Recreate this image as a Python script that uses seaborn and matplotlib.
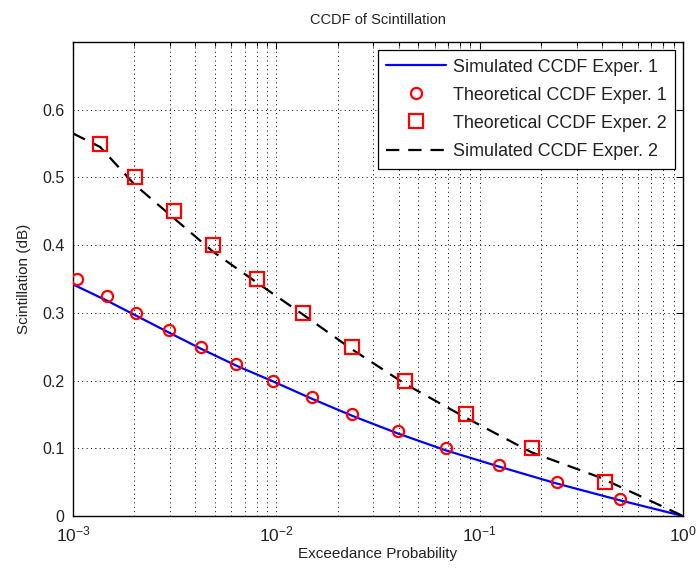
import matplotlib
matplotlib.use("Agg")
import matplotlib.pyplot as plt
import matplotlib.ticker as mticker
import numpy as np
import pandas as pd
import seaborn as sns

# Simulated CCDF curves (exceedance probability vs. scintillation in dB)
sim1_prob = [1e-3, 1.47e-3, 2.04e-3, 2.96e-3, 4.26e-3, 6.36e-3, 9.6e-3, 1.5e-2,
             2.36e-2, 3.95e-2, 6.8e-2, 0.1244, 0.239, 0.492, 1.0]
sim1_db = [0.342, 0.318, 0.296, 0.271, 0.247, 0.222, 0.199, 0.173,
           0.148, 0.122, 0.097, 0.073, 0.048, 0.023, 0.0]

sim2_prob = [1e-3, 1.36e-3, 2.0e-3, 4.9e-3, 8.0e-3, 1.36e-2, 2.36e-2, 4.3e-2,
             8.57e-2, 0.18, 0.39, 1.0]
sim2_db = [0.565, 0.545, 0.49, 0.39, 0.345, 0.297, 0.246, 0.195,
           0.145, 0.094, 0.057, 0.0]

# Theoretical CCDF points
theo1_prob = [1.05e-3, 1.465e-3, 2.04e-3, 2.96e-3, 4.26e-3, 6.36e-3, 9.6e-3,
              1.503e-2, 2.364e-2, 3.95e-2, 6.8e-2, 0.1244, 0.239, 0.492]
theo1_db = [0.35, 0.325, 0.3, 0.275, 0.25, 0.225, 0.2,
            0.175, 0.15, 0.125, 0.1, 0.075, 0.05, 0.025]

theo2_prob = [1.36e-3, 2.02e-3, 3.14e-3, 4.9e-3, 8.0e-3, 1.358e-2, 2.364e-2,
              4.3e-2, 8.57e-2, 0.1807, 0.415]
theo2_db = [0.55, 0.5, 0.45, 0.4, 0.35, 0.3, 0.25, 0.2, 0.15, 0.1, 0.05]

x_ticks = [1e-3, 1e-2, 1e-1, 1e0]
y_ticks = [0, 0.1, 0.2, 0.3, 0.4, 0.5, 0.6]

sns.set_style("white")
plt.rcParams["font.family"] = ["Liberation Sans", "DejaVu Sans"]
plt.rcParams["mathtext.fontset"] = "custom"
plt.rcParams["mathtext.rm"] = "Liberation Sans"
plt.rcParams["mathtext.it"] = "Liberation Sans"

fig = plt.figure(figsize=(6.99, 5.78), dpi=100)
ax = fig.add_axes([0.1044, 0.1073, 0.8727, 0.8200])

sim1 = pd.DataFrame({"p": sim1_prob, "db": sim1_db})
sim2 = pd.DataFrame({"p": sim2_prob, "db": sim2_db})
th1 = pd.DataFrame({"p": theo1_prob, "db": theo1_db})
th2 = pd.DataFrame({"p": theo2_prob, "db": theo2_db})

sns.lineplot(data=sim1, x="p", y="db", ax=ax, color="#0000ff", lw=1.6,
             label="Simulated CCDF Exper. 1", zorder=3)
ax.plot(th1["p"], th1["db"], ls="none", marker="o", ms=8, mfc="none",
        mec="#ff0000", mew=1.6, label="Theoretical CCDF Exper. 1", zorder=4)
ax.plot(th2["p"], th2["db"], ls="none", marker="s", ms=10, mfc="none",
        mec="#ff0000", mew=1.6, label="Theoretical CCDF Exper. 2", zorder=4)
sns.lineplot(data=sim2, x="p", y="db", ax=ax, color="black", lw=1.6,
             label="Simulated CCDF Exper. 2", zorder=3)
ax.lines[-1].set_dashes((6, 4))

ax.set_xscale("log")
ax.set_xlim(1e-3, 1)
ax.set_ylim(0, 0.7)
ax.set_xticks(x_ticks)
ax.xaxis.set_minor_locator(mticker.LogLocator(base=10, subs=np.arange(2, 10)))
ax.xaxis.set_minor_formatter(mticker.NullFormatter())
ax.set_yticks(y_ticks)
ax.set_yticklabels([f"{v:g}" for v in y_ticks])

ax.grid(True, which="major", axis="both", color="black",
        linestyle=(0, (1, 3.5)), linewidth=0.7)
ax.grid(True, which="minor", axis="x", color="black",
        linestyle=(0, (1, 3.5)), linewidth=0.7)

ax.tick_params(which="both", direction="in", top=True, right=True,
               labelsize=11.5, colors="black", labelcolor="#222222")
ax.tick_params(axis="x", which="major", labelsize=12.5)
ax.tick_params(which="major", length=5, width=0.8, pad=6)
ax.tick_params(which="minor", length=3, width=0.8)
for s in ax.spines.values():
    s.set_color("black")
    s.set_linewidth(1.0)

ax.set_title("CCDF of Scintillation", fontsize=10.5, color="#222222", pad=13)
ax.set_xlabel("Exceedance Probability", fontsize=11, color="#222222", labelpad=2)
ax.set_ylabel("Scintillation (dB)", fontsize=11, color="#222222", labelpad=8)

leg = ax.legend(loc="upper right", fontsize=12.9, frameon=True, fancybox=False,
                framealpha=1, edgecolor="black", borderpad=0.5,
                handlelength=3.3, handletextpad=0.4, labelspacing=0.62,
                borderaxespad=0.42)
leg.get_frame().set_linewidth(0.9)
for t in leg.get_texts():
    t.set_color("#222222")

fig.savefig("out.png", dpi=100, facecolor="white")
